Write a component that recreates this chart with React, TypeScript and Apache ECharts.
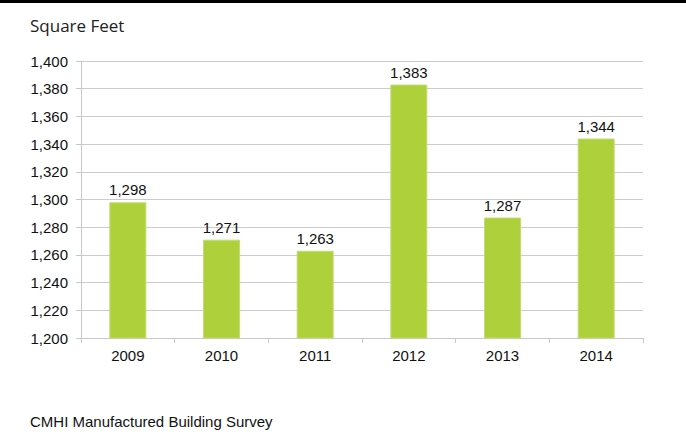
import React, { useEffect, useRef } from "react";
import * as echarts from "echarts";

const categories = ["2009", "2010", "2011", "2012", "2013", "2014"];
const values = [1298, 1271, 1263, 1383, 1287, 1344];
const yMin = 1200;
const yMax = 1400;
const yStep = 20;
const title = "Square Feet";
const source = "CMHI Manufactured Building Survey";

const fmt = (v: number) => v.toLocaleString("en-US");

export default function App() {
  const ref = useRef<HTMLDivElement>(null);
  useEffect(() => {
    if (!ref.current) return;
    const chart = echarts.init(ref.current, undefined, { renderer: "svg" });
    chart.setOption({
      animation: false,
      backgroundColor: "#ffffff",
      graphic: [
        { type: "rect", shape: { x: 0, y: 0, width: 686, height: 3 }, style: { fill: "#000000" } },
        {
          type: "text",
          x: 30,
          y: 17,
          style: { text: title, fontFamily: "Open Sans, Noto Sans, sans-serif", fontSize: 17, fill: "#222222" },
        },
        {
          type: "text",
          x: 30,
          y: 414,
          style: { text: source, fontFamily: "Liberation Sans, Arial, sans-serif", fontSize: 15, fill: "#111111" },
        },
      ],
      grid: { left: 81, right: 43, top: 61, bottom: 101, containLabel: false },
      xAxis: {
        type: "category",
        data: categories,
        axisLine: { lineStyle: { color: "#c8c8c8", width: 1 } },
        axisTick: { show: true, length: 5, lineStyle: { color: "#c8c8c8" } },
        axisLabel: { color: "#111111", fontSize: 15, fontFamily: "Liberation Sans, Arial, sans-serif", margin: 10 },
      },
      yAxis: {
        type: "value",
        min: yMin,
        max: yMax,
        interval: yStep,
        axisLine: { show: true, lineStyle: { color: "#c8c8c8", width: 1 } },
        axisTick: { show: true, length: 5, lineStyle: { color: "#c8c8c8" } },
        splitLine: { lineStyle: { color: "#cccccc", width: 1 } },
        axisLabel: {
          color: "#111111",
          fontSize: 15,
          fontFamily: "Liberation Sans, Arial, sans-serif",
          margin: 13,
          formatter: (v: number) => fmt(v),
        },
      },
      series: [
        {
          type: "bar",
          data: values,
          barWidth: 37,
          itemStyle: { color: "#aed03b", borderColor: "#c2dc72", borderWidth: 1 },
          label: {
            show: true,
            position: "top",
            distance: 5,
            color: "#111111",
            fontSize: 15,
            fontFamily: "Liberation Sans, Arial, sans-serif",
            formatter: (p: any) => fmt(p.value),
          },
        },
      ],
    });
    return () => chart.dispose();
  }, []);
  return <div ref={ref} style={{ width: 686, height: 439, position: "absolute", left: 0, top: 0 }} />;
}
